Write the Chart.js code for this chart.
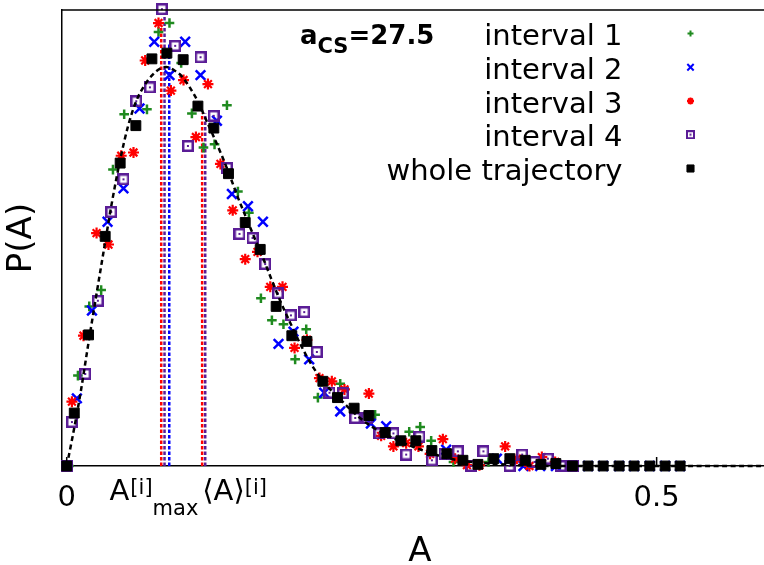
<!DOCTYPE html>
<html>
<head>
<meta charset="utf-8">
<script src="https://cdn.jsdelivr.net/npm/chart.js@4.4.1/dist/chart.umd.min.js"></script>
<style>
  html, body { margin: 0; padding: 0; background: #fff; overflow: hidden; }
</style>
</head>
<body>
<canvas id="pdfChart" width="764" height="565"></canvas>
<script>
'use strict';

// --- data ---
const xTickValues = [0, 0.5];
const xTickLabels = ['0', '0.5'];

const int1A = [0.0020, 0.0095, 0.0191, 0.0292, 0.0392, 0.0487, 0.0680, 0.0778, 0.0871, 0.0970, 0.1061, 0.1159, 0.1253, 0.1358, 0.1451, 0.1544, 0.1646, 0.1739, 0.1837, 0.1936, 0.2030, 0.2129, 0.2318, 0.2614, 0.2903, 0.2996, 0.3089, 0.3278, 0.3575];
const int1P = [0, 1.11, 1.96, 2.16, 3.64, 4.32, 4.38, 5.33, 5.44, 4.95, 4.33, 3.91, 3.95, 4.43, 3.37, 3.11, 2.06, 1.79, 1.74, 1.31, 1.68, 0.84, 1.01, 0.63, 0.42, 0.48, 0.31, 0.05, 0.05];

const int2A = [0, 0.0086, 0.0214, 0.0346, 0.0481, 0.0617, 0.0742, 0.0871, 0.1004, 0.1134, 0.1273, 0.1400, 0.1536, 0.1663, 0.1795, 0.1922, 0.2055, 0.2182, 0.2318, 0.2578, 0.2708, 0.3216, 0.3646, 0.3871, 0.4013, 0.4146, 0.4286, 0.4419, 0.4547, 0.4682, 0.4809, 0.4942, 0.5072, 0.5199];
const int2P = [0, 0.83, 1.91, 3.00, 3.41, 4.39, 5.21, 4.80, 5.21, 4.80, 4.24, 3.34, 3.19, 3.00, 1.50, 1.65, 1.31, 0.90, 0.67, 0.52, 0.49, 0.20, 0.09, 0, 0, 0, 0, 0, 0, 0, 0, 0, 0, 0];

const int3A = [0.0044, 0.0142, 0.0253, 0.0354, 0.0462, 0.0566, 0.0665, 0.0778, 0.0883, 0.0990, 0.1095, 0.1197, 0.1303, 0.1407, 0.1513, 0.1617, 0.1725, 0.1829, 0.1931, 0.2036, 0.2142, 0.2247, 0.2354, 0.2561, 0.2665, 0.2769, 0.2877, 0.2981, 0.3080, 0.3188, 0.3292, 0.3392, 0.3498, 0.3716, 0.3815, 0.3922, 0.4027, 0.4140];
const int3P = [0.79, 1.60, 2.86, 2.72, 3.81, 3.85, 4.98, 5.44, 4.61, 4.74, 4.04, 4.69, 3.71, 3.14, 2.54, 2.63, 2.20, 2.20, 1.45, 1.55, 1.08, 1.04, 0.94, 0.89, 0.37, 0.24, 0.28, 0.24, 0.15, 0.33, 0.09, 0.01, 0.01, 0.24, 0.09, 0, 0.11, 0.05];

const int4A = [0, 0.0044, 0.0157, 0.0264, 0.0377, 0.0481, 0.0589, 0.0705, 0.0807, 0.0919, 0.1027, 0.1134, 0.1246, 0.1358, 0.1464, 0.1575, 0.1682, 0.1790, 0.1900, 0.2013, 0.2120, 0.2227, 0.2341, 0.2445, 0.2549, 0.2651, 0.2769, 0.2877, 0.2990, 0.3095, 0.3203, 0.3315, 0.3425, 0.3532, 0.3753, 0.3860, 0.3964, 0.4078, 0.4188, 0.4295];
const int4P = [0, 0.54, 1.13, 2.03, 3.12, 3.52, 4.48, 4.65, 5.61, 5.16, 3.93, 5.02, 4.30, 3.66, 2.85, 2.80, 2.48, 2.12, 1.85, 1.89, 1.40, 0.90, 0.90, 0.59, 0.59, 0.40, 0.40, 0.14, 0.36, 0.07, 0.15, 0.18, 0, 0.18, 0, 0.14, 0.05, 0.09, 0, 0];

const wholeA = [0, 0.0064, 0.0185, 0.0326, 0.0453, 0.0586, 0.0722, 0.0849, 0.0987, 0.1112, 0.1247, 0.1371, 0.1513, 0.1640, 0.1775, 0.1908, 0.2036, 0.2171, 0.2295, 0.2436, 0.2561, 0.2699, 0.2832, 0.2959, 0.3095, 0.3222, 0.3358, 0.3485, 0.3620, 0.3756, 0.3886, 0.4019, 0.4146, 0.4286, 0.4419, 0.4547, 0.4682, 0.4809, 0.4942, 0.5072, 0.5199];
const wholeP = [0, 0.65, 1.61, 2.82, 3.72, 4.18, 5.00, 5.07, 4.99, 4.42, 4.15, 3.59, 2.99, 2.66, 1.96, 1.60, 1.53, 1.04, 0.84, 0.71, 0.62, 0.41, 0.31, 0.31, 0.19, 0.15, 0.07, 0.02, 0.09, 0.09, 0.07, 0.02, 0.03, 0, 0, 0, 0, 0, 0, 0, 0];

// fitted curve (dashed black), sampled from the figure
const fitA = [0, 0.0047, 0.0114, 0.0182, 0.0250, 0.0318, 0.0386, 0.0453, 0.0521, 0.0589, 0.0657, 0.0725, 0.0792, 0.0843, 0.0911, 0.0979, 0.1047, 0.1114, 0.1182, 0.1250, 0.1318, 0.1386, 0.1453, 0.1521, 0.1589, 0.1657, 0.1725, 0.1809, 0.1894, 0.1979, 0.2081, 0.2191, 0.2318, 0.2453, 0.2589, 0.2742, 0.2911, 0.3081, 0.3250, 0.3504, 0.3843, 0.4267, 0.5911];
const fitP = [0, 0.34, 0.87, 1.49, 2.09, 2.68, 3.26, 3.76, 4.18, 4.48, 4.67, 4.80, 4.88, 4.90, 4.86, 4.78, 4.64, 4.47, 4.25, 4.03, 3.80, 3.55, 3.29, 3.05, 2.81, 2.58, 2.33, 2.03, 1.76, 1.50, 1.23, 1.01, 0.82, 0.63, 0.48, 0.36, 0.25, 0.16, 0.09, 0.04, 0.01, 0, 0];

// A_max and <A> markers (red = interval 3, purple = interval 4, blue = interval 2)
const amaxA = [0.0801, 0.0829, 0.0869];
const amaxTop = [5.42, 5.56, 5.19];
const meanA = [0.1148, 0.1174];
const meanTop = [4.33, 4.33];

const legendLabels = ['interval 1', 'interval 2', 'interval 3', 'interval 4', 'whole trajectory'];

// --- styles ---
const FONT = '"DejaVu Sans", sans-serif';
const GREEN = '#1f8a1f';
const BLUE = '#0000ff';
const RED = '#ff0000';
const PURPLE = '#5a1c96';
const BLACK = '#000000';

function squareDot(size, lw, color) {
  const c = document.createElement('canvas');
  c.width = size; c.height = size;
  const g = c.getContext('2d');
  g.strokeStyle = color;
  g.lineWidth = lw;
  g.strokeRect(lw / 2, lw / 2, size - lw, size - lw);
  g.fillStyle = color;
  g.fillRect(size / 2 - 1, size / 2 - 1, 2, 2);
  return c;
}

const purpleBox = squareDot(12, 2.5, PURPLE);
const purpleBoxSmall = squareDot(9, 2, PURPLE);

function pts(a, p) {
  return a.map((x, i) => ({ x: x, y: p[i] }));
}

function markerSet(label, a, p, color, style, radius, bw, order) {
  return {
    label: label,
    data: pts(a, p),
    pointStyle: style,
    pointRadius: radius,
    pointBorderWidth: bw,
    borderColor: color,
    backgroundColor: color,
    showLine: false,
    clip: false,
    order: order,
  };
}

function vLine(x, top, color) {
  return {
    data: [{ x: x, y: 0 }, { x: x, y: top }],
    showLine: true,
    pointRadius: 0,
    borderColor: color,
    borderWidth: 2.5,
    borderDash: [3.5, 2],
    tension: 0,
    clip: false,
    order: 10,
  };
}

const lineColors = [RED, PURPLE, BLUE];
const datasets = [];
amaxA.forEach((x, i) => datasets.push(vLine(x, amaxTop[i], lineColors[i])));
meanA.forEach((x, i) => datasets.push(vLine(x, meanTop[i], lineColors[i])));

datasets.push(markerSet('interval 1', int1A, int1P, GREEN, 'cross', 4.8, 2.5, 6));
datasets.push(markerSet('interval 2', int2A, int2P, BLUE, 'crossRot', 6.8, 2.5, 5));
datasets.push(markerSet('interval 3', int3A, int3P, RED, 'star', 5.5, 2.2, 4));
datasets.push(markerSet('interval 4', int4A, int4P, PURPLE, purpleBox, 6, 0, 3));
datasets.push({
  label: 'fit',
  data: pts(fitA, fitP),
  showLine: true,
  pointRadius: 0,
  borderColor: BLACK,
  borderWidth: 2.5,
  borderDash: [5, 3.5],
  cubicInterpolationMode: 'monotone',
  clip: false,
  order: 2,
});
datasets.push(markerSet('whole trajectory', wholeA, wholeP, BLACK, 'rect', 7, 1, 1));

const legendStyles = [
  { color: GREEN, pointStyle: 'cross', radius: 3, bw: 2 },
  { color: BLUE, pointStyle: 'crossRot', radius: 4.5, bw: 2 },
  { color: RED, pointStyle: 'star', radius: 3.5, bw: 2 },
  { color: PURPLE, pointStyle: purpleBoxSmall, radius: 4, bw: 0 },
  { color: BLACK, pointStyle: 'rect', radius: 5, bw: 1 },
];

// frame, key, a_CS label, axis title and the special x tick labels
const extrasPlugin = {
  id: 'extras',
  afterDraw(chart) {
    const { ctx, chartArea: area, scales: { x } } = chart;
    ctx.save();
    ctx.strokeStyle = '#000';
    ctx.lineWidth = 1.5;
    ctx.beginPath();
    ctx.moveTo(area.left, area.top);
    ctx.lineTo(area.right, area.top);
    xTickValues.forEach(v => {
      const px = x.getPixelForValue(v);
      ctx.moveTo(px, area.bottom);
      ctx.lineTo(px, area.bottom - 9);
    });
    ctx.stroke();

    // key
    ctx.textAlign = 'right';
    ctx.textBaseline = 'alphabetic';
    ctx.font = '29px ' + FONT;
    legendLabels.forEach((t, i) => {
      const base = 45 + i * 33.75;
      ctx.fillStyle = '#000';
      ctx.fillText(t, 622.5, base);
      const st = legendStyles[i];
      ctx.strokeStyle = st.color;
      ctx.fillStyle = st.color;
      ctx.lineWidth = st.bw;
      Chart.helpers.drawPoint(ctx, { pointStyle: st.pointStyle, radius: st.radius, rotation: 0, borderWidth: st.bw }, 690.5, base - 11.5);
    });

    // a_CS = 27.5
    ctx.fillStyle = '#000';
    ctx.textAlign = 'left';
    let cx = 300;
    ctx.font = 'bold 26px ' + FONT;
    ctx.fillText('a', cx, 43.5);
    cx += ctx.measureText('a').width;
    ctx.font = 'bold 21px ' + FONT;
    ctx.fillText('CS', cx, 53);
    cx += ctx.measureText('CS').width;
    ctx.font = 'bold 26px ' + FONT;
    ctx.fillText('=27.5', cx, 43.5);

    // A^[i]_max and <A>^[i] under the marker lines
    let lx = x.getPixelForValue(amaxA[1]) - 55;
    ctx.font = '29px ' + FONT;
    ctx.fillText('A', lx, 500);
    lx += ctx.measureText('A').width + 1;
    ctx.font = '21px ' + FONT;
    ctx.fillText('[i]', lx, 494);
    lx += ctx.measureText('[i]').width;
    ctx.fillText('max', lx, 515);
    lx = x.getPixelForValue(meanA[1]) - 3;
    ctx.font = '29px ' + FONT;
    ctx.fillText('\u27E8A\u27E9', lx, 500);
    lx += ctx.measureText('\u27E8A\u27E9').width;
    ctx.font = '21px ' + FONT;
    ctx.fillText('[i]', lx, 494);

    // x axis title
    ctx.textAlign = 'center';
    ctx.font = '34px ' + FONT;
    ctx.fillText('A', 420, 561);
    ctx.restore();
  },
};

new Chart(document.getElementById('pdfChart').getContext('2d'), {
  type: 'scatter',
  data: { datasets: datasets },
  options: {
    responsive: false,
    animation: false,
    events: [],
    layout: { autoPadding: false, padding: { top: 10, right: 0, left: 0, bottom: 0 } },
    plugins: { legend: { display: false }, tooltip: { enabled: false } },
    scales: {
      x: {
        type: 'linear',
        min: -0.004,
        max: 0.591,
        afterBuildTicks: (s) => { s.ticks = xTickValues.map(v => ({ value: v })); },
        afterFit: (s) => { s.height = 99; },
        grid: { display: false, drawTicks: false },
        border: { display: true, color: '#000', width: 1.5 },
        ticks: {
          autoSkip: false,
          maxRotation: 0,
          padding: 15,
          color: '#000',
          font: { family: FONT, size: 29 },
          callback: (v, i) => xTickLabels[i],
        },
      },
      y: {
        min: 0,
        max: 5.6,
        afterFit: (s) => { s.width = 62; },
        grid: { display: false, drawTicks: false },
        border: { display: true, color: '#000', width: 1.5 },
        ticks: { display: false },
        title: { display: true, text: 'P(A)', color: '#000', font: { family: FONT, size: 34 }, padding: { top: 2, bottom: 0 } },
      },
    },
  },
  plugins: [extrasPlugin],
});
</script>
</body>
</html>
